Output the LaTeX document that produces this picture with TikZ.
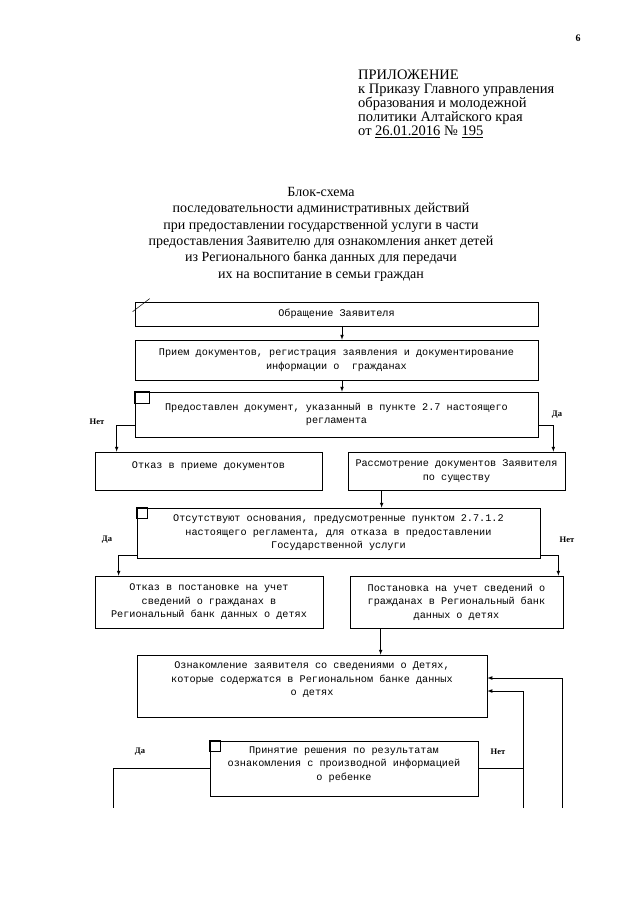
\documentclass[tikz,border=0pt]{standalone}
\usepackage{fontspec}
\setmainfont{Liberation Serif}
\newfontfamily\blokfont{Liberation Mono}
\usetikzlibrary{positioning,calc,arrows}

\begin{document}
\begin{tikzpicture}[x=1pt,y=-1pt,
  blok/.style={draw,line width=0.7pt,align=center,inner sep=2pt,
    font=\blokfont\fontsize{10.2}{13.5}\selectfont},
  otvet/.style={font=\bfseries\fontsize{8.5}{10}\selectfont},
  strelka/.style={-latex,line width=0.7pt},
  linija/.style={line width=0.7pt}]
\useasboundingbox (0,0) rectangle (640,905);
\node[font=\bfseries\fontsize{10}{12}\selectfont] (nomer) at (578,38) {6};
\node[anchor=north west,align=left,inner sep=0pt,
  font=\fontsize{14.5}{14}\selectfont] (prilozh) at (358,70)
  {ПРИЛОЖЕНИЕ\\к Приказу Главного управления\\образования и молодежной\\
   политики Алтайского края\\от \underline{26.01.2016} № \underline{195}};
\node[anchor=north,align=center,inner sep=0pt,
  font=\fontsize{14}{16.4}\selectfont] (zagolovok) at (321,187)
  {Блок-схема\\последовательности административных действий\\
   при предоставлении государственной услуги в части\\
   предоставления Заявителю для ознакомления анкет детей\\
   из Регионального банка данных для передачи\\
   их на воспитание в семьи граждан};

\node[blok,minimum width=403pt,minimum height=24pt] (obr) at (336.5,314)
  {Обращение Заявителя};
\node[blok,minimum width=403pt,minimum height=40pt] (priem) at (336.5,360)
  {Прием документов, регистрация заявления и документирование\\
   информации о~~гражданах};
\node[blok,minimum width=403pt,minimum height=45pt] (dok) at (336.5,414.5)
  {Предоставлен документ, указанный в пункте 2.7 настоящего\\регламента};
\node[blok,minimum width=227pt,minimum height=38pt,text depth=12pt] (otkaz1) at (208.5,471)
  {Отказ в приеме документов};
\node[blok,minimum width=217pt,minimum height=38pt] (rassm) at (456.5,471)
  {Рассмотрение документов Заявителя\\по существу};
\node[blok,minimum width=403pt,minimum height=50pt] (osn) at (338.5,533)
  {Отсутствуют основания, предусмотренные пунктом 2.7.1.2\\
   настоящего регламента, для отказа в предоставлении\\
   Государственной услуги};
\node[blok,minimum width=228pt,minimum height=52pt] (otkaz2) at (209,602)
  {Отказ в постановке на учет\\сведений о гражданах в\\
   Региональный банк данных о детях};
\node[blok,minimum width=213pt,minimum height=52pt] (post) at (456.5,602)
  {Постановка на учет сведений о\\гражданах в Региональный банк\\
   данных о детях};
\node[blok,minimum width=350pt,minimum height=62pt,text depth=14pt] (oznak) at (312,686)
  {Ознакомление заявителя со сведениями о Детях,\\
   которые содержатся в Региональном банке данных\\о детях};
\node[blok,minimum width=268pt,minimum height=55pt,text depth=10pt] (prin) at (344,768.5)
  {Принятие решения по результатам\\
   ознакомления с производной информацией\\о ребенке};

\draw[linija] (dok.north west) rectangle ++(15,12);
\draw[linija] (osn.north west) rectangle ++(11,11);
\draw[linija] (prin.north west) rectangle ++(11,11);
\draw[line width=0.5pt] ([shift={(-2pt,-10pt)}]obr.north west) -- ++(17,-13);

\draw[strelka] ([xshift=5.5pt]obr.south) coordinate (s1) -- (s1 |- priem.north);
\draw[strelka] ([xshift=5.5pt]priem.south) coordinate (s2) -- (s2 |- dok.north);
\draw[strelka] ([yshift=-11pt]dok.west) -| ([xshift=22pt]otkaz1.north west);
\draw[strelka] ([yshift=-11pt]dok.east) -| ([xshift=-12pt]rassm.north east);
\draw[strelka] ([xshift=34pt]rassm.south west) coordinate (s3) -- (s3 |- osn.north);
\draw[strelka] ([yshift=3pt]osn.south west) -| ([xshift=24pt]otkaz2.north west);
\draw[strelka] ([yshift=3pt]osn.south east) -| ([xshift=-5pt]post.north east);
\draw[strelka] ([xshift=31pt]post.south west) coordinate (s4) -- (s4 |- oznak.north);

\coordinate (nizL) at (113,808);
\coordinate (nizA) at (523,808);
\coordinate (nizB) at (562,808);
\draw[linija] (prin.west) -| (nizL);
\draw[linija] (prin.east) -- (prin.east -| nizA);
\draw[strelka] (nizA) |- ([yshift=-5pt]oznak.east);
\draw[strelka] (nizB) |- ([yshift=8pt]oznak.east);

\node[otvet] (net1) at (97,422) {Нет};
\node[otvet] (da1) at (557,415) {Да};
\node[otvet] (da2) at (107,540) {Да};
\node[otvet] (net2) at (567,540) {Нет};
\node[otvet] (da3) at (140,752) {Да};
\node[otvet] (net3) at (498,752) {Нет};
\end{tikzpicture}
\end{document}
